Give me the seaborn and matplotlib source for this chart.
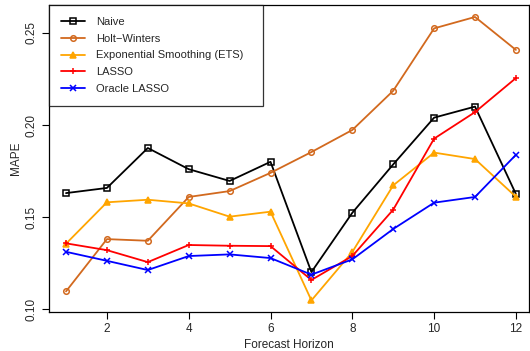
import pandas as pd
import matplotlib.pyplot as plt
import seaborn as sns

# values
horizon = list(range(1, 13))
naive = [0.163, 0.1658, 0.1875, 0.176, 0.1696, 0.180, 0.1201, 0.1523, 0.1786, 0.204, 0.210, 0.1625]
holt_winters = [0.1096, 0.138, 0.1371, 0.1609, 0.1641, 0.174, 0.1853, 0.1973, 0.2186, 0.2525, 0.2587, 0.2408]
ets = [0.1355, 0.158, 0.1594, 0.1574, 0.1502, 0.1529, 0.1047, 0.131, 0.1672, 0.185, 0.1815, 0.161]
lasso = [0.1357, 0.132, 0.1255, 0.1348, 0.1344, 0.1342, 0.1158, 0.1288, 0.154, 0.1926, 0.207, 0.2255]
oracle_lasso = [0.1311, 0.1262, 0.1212, 0.1288, 0.1297, 0.1277, 0.1187, 0.127, 0.1435, 0.1578, 0.1609, 0.1838]

series_names = ['Naive', 'Holt\u2212Winters', 'Exponential Smoothing (ETS)', 'LASSO', 'Oracle LASSO']
series_vals = [naive, holt_winters, ets, lasso, oracle_lasso]

colors = ['black', '#D2691E', '#FFA500', '#FF0000', '#0000FF']
markers = ['s', 'o', '^', '+', 'x']
fills = ['none', 'none', 'full', 'full', 'full']

df = pd.concat([pd.DataFrame({'h': horizon, 'mape': v, 'model': n})
                for n, v in zip(series_names, series_vals)])

sns.set_style('white')
plt.rcParams['font.family'] = ['Liberation Sans', 'DejaVu Sans']

fig = plt.figure(figsize=(5.3, 3.51), dpi=100)
ax = fig.add_axes([49 / 530, 39 / 351, 480 / 530, 307 / 351])

for n, c, m, f in zip(series_names, colors, markers, fills):
    sub = df[df['model'] == n]
    sns.lineplot(data=sub, x='h', y='mape', ax=ax, color=c, marker=m,
                 markersize=4 if m in ('s', 'o') else 5,
                 markerfacecolor='none' if f == 'none' else c,
                 markeredgecolor=c, markeredgewidth=1.1,
                 linewidth=1.3, label=n, legend=False)

ax.set_xlim(0.584, 12.32)
ax.set_ylim(0.0984, 0.2652)
ax.set_xticks([2, 4, 6, 8, 10, 12])
ax.set_yticks([0.10, 0.15, 0.20, 0.25])
ax.set_yticklabels(['0.10', '0.15', '0.20', '0.25'], rotation=90, va='center')
ax.tick_params(axis='both', direction='out', length=5, width=0.8, labelsize=8.5,
               bottom=True, left=True, color='black')
ax.tick_params(axis='x', pad=3)
ax.tick_params(axis='y', pad=3)
for s in ax.spines.values():
    s.set_color('black')
    s.set_linewidth(0.9)
ax.set_xlabel('Forecast Horizon', fontsize=8.5, labelpad=3)
ax.set_ylabel('MAPE', fontsize=8.5, labelpad=3)

handles, labels = ax.get_legend_handles_labels()
leg = ax.legend(handles, labels, loc='upper left',
                bbox_to_anchor=(0, 0, 214 / 480, 1), mode='expand',
                borderaxespad=0, fontsize=8, frameon=True, fancybox=False,
                edgecolor='black', handlelength=2.2, labelspacing=0.62,
                borderpad=1.05, handletextpad=1.0)
leg.get_frame().set_linewidth(0.9)

plt.savefig('out.png', dpi=100)
